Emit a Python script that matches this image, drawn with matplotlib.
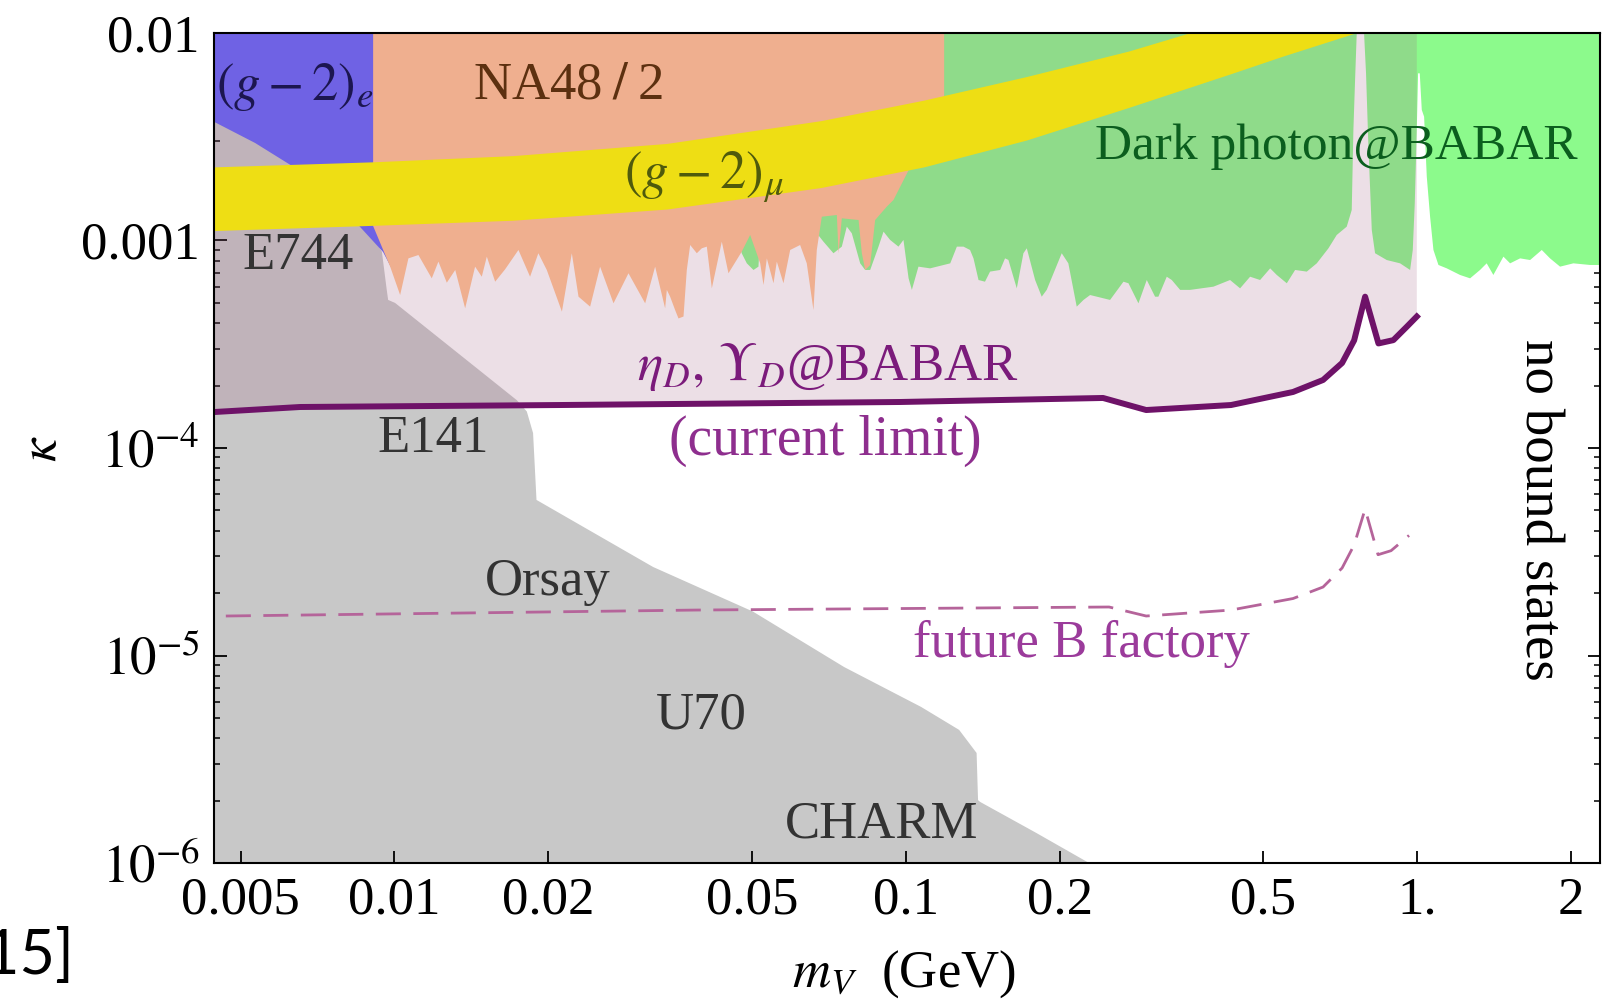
import numpy as np
import matplotlib
matplotlib.use('Agg')
import matplotlib.pyplot as plt
from matplotlib.ticker import FixedLocator, FixedFormatter, NullLocator, LogLocator

plt.rcParams['font.family'] = ['Liberation Serif', 'DejaVu Serif']
plt.rcParams['mathtext.fontset'] = 'stix'

# plot range (GeV, kappa)
m_min, m_max = 0.00443, 2.28
k_min, k_max = 1e-6, 1e-2

# beam dump envelope (E744, E141, Orsay, U70, CHARM), outline
beamdump = [(0.00443, 1e-2), (0.00883, 1e-2), (0.00883, 1.145e-3), (0.00945, 8.83e-4),
            (0.00966, 5.77e-4), (0.00972, 5.17e-4), (0.01003, 5.00e-4), (0.01735, 1.70e-4),
            (0.01815, 1.50e-4), (0.01867, 1.18e-4), (0.01896, 5.62e-5), (0.03206, 2.67e-5),
            (0.05022, 1.63e-5), (0.07577, 8.80e-6), (0.1072, 5.65e-6), (0.1272, 4.38e-6),
            (0.1376, 3.39e-6), (0.1385, 2.01e-6), (0.1398, 1.97e-6), (0.1797, 1.40e-6),
            (0.2284, 1e-6), (0.00443, 1e-6)]

# (g-2)_e excluded region, lower edge
ge_edge = [(0.00443, 3.74e-3), (0.00534, 2.95e-3), (0.00639, 2.24e-3), (0.00783, 1.48e-3),
           (0.00950, 8.80e-4), (0.01003, 6.82e-4)]

# NA48/2 lower edge
na48_edge = [(0.009085, 1.174e-3), (0.00981, 7.48e-4), (0.01026, 5.46e-4), (0.01065, 8.20e-4),
             (0.01114, 8.51e-4), (0.01183, 6.57e-4), (0.01219, 7.91e-4), (0.01266, 6.26e-4),
             (0.01315, 7.21e-4), (0.01375, 4.71e-4), (0.01438, 7.48e-4), (0.01482, 6.69e-4),
             (0.01516, 8.36e-4), (0.01574, 6.33e-4), (0.01646, 7.26e-4), (0.01748, 9.00e-4),
             (0.01842, 6.69e-4), (0.01912, 8.68e-4), (0.01986, 7.21e-4), (0.02126, 4.54e-4),
             (0.02223, 8.68e-4), (0.02291, 5.36e-4), (0.02414, 4.80e-4), (0.02525, 7.48e-4),
             (0.02682, 4.98e-4), (0.02869, 6.95e-4), (0.03093, 4.98e-4), (0.03235, 7.48e-4),
             (0.03384, 4.71e-4), (0.03410, 5.78e-4), (0.03461, 5.36e-4), (0.03540, 4.62e-4),
             (0.03594, 4.21e-4), (0.03676, 4.30e-4), (0.03731, 7.21e-4), (0.03788, 9.51e-4),
             (0.03903, 8.68e-4), (0.03992, 9.17e-4), (0.04083, 9.34e-4), (0.04176, 5.88e-4),
             (0.04368, 9.87e-4), (0.04501, 6.95e-4), (0.04778, 8.83e-4), (0.04963, 1.063e-3),
             (0.05192, 7.76e-4), (0.05271, 6.10e-4), (0.05350, 8.20e-4), (0.05513, 6.22e-4),
             (0.05596, 7.91e-4), (0.05766, 6.22e-4), (0.05943, 9.00e-4), (0.06215, 9.51e-4),
             (0.06404, 7.76e-4), (0.06600, 4.62e-4), (0.06700, 9.00e-4), (0.06853, 1.302e-3),
             (0.07333, 1.327e-3), (0.07388, 8.68e-4), (0.07499, 1.279e-3), (0.08086, 1.255e-3),
             (0.08207, 8.68e-4), (0.08331, 7.21e-4), (0.08521, 7.62e-4), (0.08714, 1.255e-3),
             (0.09183, 1.456e-3), (0.09463, 1.567e-3), (0.1189, 4.75e-3)]

# dark photon @ BABAR lower edge
babar_edge = [(0.04672, 1.083e-3), (0.04778, 8.68e-4), (0.04889, 7.76e-4), (0.05038, 7.21e-4),
              (0.05152, 7.48e-4), (0.05192, 1.083e-3), (0.06700, 1.083e-3), (0.06904, 9.87e-4),
              (0.07222, 8.68e-4), (0.07499, 9.34e-4), (0.07669, 1.166e-3), (0.07844, 1.083e-3),
              (0.08146, 7.76e-4), (0.08331, 7.21e-4), (0.08521, 7.21e-4), (0.08846, 9.34e-4),
              (0.09048, 1.103e-3), (0.09322, 1.006e-3), (0.09678, 9.34e-4), (0.09899, 1.006e-3),
              (0.1013, 6.57e-4), (0.1028, 5.78e-4), (0.1059, 7.48e-4), (0.1116, 7.34e-4),
              (0.1222, 7.76e-4), (0.1259, 9.34e-4), (0.1297, 9.34e-4), (0.1336, 9.00e-4),
              (0.1357, 8.20e-4), (0.1388, 6.45e-4), (0.1429, 6.33e-4), (0.1462, 7.08e-4),
              (0.1530, 7.21e-4), (0.1564, 8.20e-4), (0.1588, 8.06e-4), (0.1649, 5.88e-4),
              (0.1699, 8.68e-4), (0.1725, 9.17e-4), (0.1791, 6.45e-4), (0.1845, 5.36e-4),
              (0.1887, 5.78e-4), (0.2019, 8.68e-4), (0.2080, 7.76e-4), (0.2160, 4.80e-4),
              (0.2227, 5.17e-4), (0.2294, 5.46e-4), (0.2510, 5.17e-4), (0.2666, 6.33e-4),
              (0.2727, 6.22e-4), (0.2852, 4.98e-4), (0.2961, 6.45e-4), (0.3074, 5.36e-4),
              (0.3120, 5.36e-4), (0.3240, 6.69e-4), (0.3314, 6.45e-4), (0.3441, 5.78e-4),
              (0.3599, 5.78e-4), (0.3998, 5.99e-4), (0.4309, 6.45e-4), (0.4508, 5.88e-4),
              (0.4716, 6.69e-4), (0.4933, 6.45e-4), (0.5162, 7.34e-4), (0.5318, 6.82e-4),
              (0.5563, 6.22e-4), (0.5776, 7.21e-4), (0.6087, 7.08e-4), (0.6367, 7.76e-4),
              (0.6711, 9.17e-4), (0.6966, 1.063e-3), (0.7287, 1.166e-3), (0.7453, 1.403e-3),
              (0.7509, 3.41e-3), (0.7566, 5.94e-3), (0.7623, 1e-2), (0.7878, 1e-2),
              (0.7949, 6.39e-3), (0.8035, 2.83e-3), (0.8157, 1.124e-3), (0.8279, 8.68e-4),
              (0.8726, 8.05e-4), (0.9267, 7.76e-4), (0.9694, 7.21e-4), (0.9811, 9.00e-4),
              (0.9899, 1.51e-3), (0.9989, 3.41e-3), (1.0048, 6.39e-3), (1.0125, 6.39e-3),
              (1.0217, 4.26e-3), (1.0325, 3.95e-3), (1.0450, 2.03e-3), (1.0607, 1.302e-3),
              (1.0768, 9.00e-4), (1.1013, 7.62e-4), (1.1434, 7.34e-4), (1.2140, 6.82e-4),
              (1.2700, 6.57e-4), (1.3283, 7.21e-4), (1.3686, 7.76e-4), (1.4104, 6.82e-4),
              (1.4757, 8.36e-4), (1.5209, 7.76e-4), (1.5909, 8.20e-4), (1.6642, 8.05e-4),
              (1.7539, 9.00e-4), (1.8204, 8.20e-4), (1.9046, 7.48e-4), (2.0224, 7.76e-4),
              (2.1804, 7.62e-4), (2.28, 7.62e-4)]

# (g-2)_mu band
gmu_upper = [(0.00443, 2.25e-3), (0.009075, 2.38e-3), (0.01709, 2.55e-3), (0.0342, 2.92e-3),
             (0.06843, 3.76e-3), (0.1087, 4.72e-3), (0.1725, 6.13e-3), (0.2741, 8.15e-3),
             (0.3616, 1e-2)]
gmu_lower = [(0.00443, 1.11e-3), (0.009075, 1.176e-3), (0.01709, 1.245e-3), (0.0342, 1.41e-3),
             (0.06843, 1.79e-3), (0.1087, 2.25e-3), (0.1725, 3.03e-3), (0.2741, 4.36e-3),
             (0.4351, 6.35e-3), (0.5483, 7.70e-3), (0.7646, 1e-2)]

# eta_D, Upsilon_D @ BABAR current limit
etaD_m = [0.00443, 0.00654, 0.02109, 0.0975, 0.2432, 0.2953, 0.4328, 0.5722, 0.6550,
          0.7136, 0.7534, 0.7916, 0.8406, 0.899, 0.955, 0.999]
etaD_k = [1.49e-4, 1.576e-4, 1.611e-4, 1.666e-4, 1.742e-4, 1.524e-4, 1.611e-4, 1.862e-4,
          2.127e-4, 2.568e-4, 3.30e-4, 5.36e-4, 3.19e-4, 3.31e-4, 3.84e-4, 4.30e-4]

# future B factory reach
fut_m = [0.00468, 0.0389, 0.2499, 0.2953, 0.4328, 0.5722, 0.6550, 0.7136, 0.7534,
         0.7916, 0.839, 0.8897, 0.9647]
fut_k = [1.55e-5, 1.656e-5, 1.713e-5, 1.55e-5, 1.656e-5, 1.882e-5, 2.138e-5, 2.64e-5,
         3.41e-5, 5.08e-5, 3.06e-5, 3.20e-5, 3.79e-5]

xticks = [0.005, 0.01, 0.02, 0.05, 0.1, 0.2, 0.5, 1.0, 2.0]
xticklabels = ['0.005', '0.01', '0.02', '0.05', '0.1', '0.2', '0.5', '1.', '2']
yticks = [1e-6, 1e-5, 1e-4, 1e-3, 1e-2]
yticklabels = [r'$10^{-6}$', r'$10^{-5}$', r'$10^{-4}$', '0.001', '0.01']

fig = plt.figure(figsize=(16.1, 10.02), dpi=100)
ax = fig.add_axes([0.1327, 0.1387, 0.8611, 0.8284])
ax.set_xscale('log')
ax.set_yscale('log')
ax.set_xlim(m_min, m_max)
ax.set_ylim(k_min, k_max)

# gray beam dump
bd = np.array(beamdump)
ax.fill(bd[:, 0], bd[:, 1], color='#c8c8c8', lw=0, zorder=1)

# dark photon BABAR (green)
gr = np.array([(babar_edge[0][0], k_max)] + babar_edge + [(m_max, k_max)])
ax.fill(gr[:, 0], gr[:, 1], color='#8cfa8c', lw=0, zorder=2)

# eta_D excluded region: translucent pink above the solid line, up to 1 GeV
pk_m = np.array(etaD_m + [etaD_m[-1], etaD_m[0]])
pk_k = np.array(etaD_k + [k_max, k_max])
ax.fill(pk_m, pk_k, color=(160/255, 95/255, 130/255), alpha=0.2, lw=0, zorder=3)

# (g-2)_e (blue)
ge = np.array([(m_min, k_max)] + ge_edge + [(ge_edge[-1][0], k_max)])
ax.fill(ge[:, 0], ge[:, 1], color='#6f62e4', lw=0, zorder=4)

# NA48/2 (salmon)
na = np.array([(na48_edge[0][0], k_max)] + na48_edge + [(na48_edge[-1][0], k_max)])
ax.fill(na[:, 0], na[:, 1], color='#efaf8f', lw=0, zorder=5)

# (g-2)_mu band (yellow)
gm = np.array(gmu_upper + gmu_lower[::-1])
ax.fill(gm[:, 0], gm[:, 1], color='#eede14', lw=0, zorder=6)

ax.plot(etaD_m, etaD_k, color='#6e1268', lw=4.3, solid_joinstyle='round', zorder=7)
ax.plot(fut_m, fut_k, color='#b5649a', lw=2.0, dashes=(9, 4.5), zorder=7)

# labels
fs = 38
ax.text(0.0586, 0.935, r'$(g-2)_e$', color='#1c1650', fontsize=fs, ha='center', va='center',
        transform=ax.transAxes, zorder=10)
ax.text(0.256, 0.937, r'NA48$\;/\;$2', color='#5c3010', fontsize=fs, ha='center', va='center',
        transform=ax.transAxes, zorder=10)
ax.text(0.354, 0.827, r'$(g-2)_\mu$', color='#4f5a0c', fontsize=fs, ha='center', va='center',
        transform=ax.transAxes, zorder=10)
ax.text(0.810, 0.863, 'Dark photon@BABAR', color='#0b5e1e', fontsize=37, ha='center',
        va='center', transform=ax.transAxes, zorder=10)
for s, x, y in [('E744', 0.061, 0.731), ('E141', 0.158, 0.511), ('Orsay', 0.241, 0.338),
                ('U70', 0.352, 0.178), ('CHARM', 0.482, 0.047)]:
    ax.text(x, y, s, color='#333333', fontsize=fs, ha='center', va='center',
            transform=ax.transAxes, zorder=10)
ax.text(0.4426, 0.597, r'$\eta_D,\,\Upsilon_D$@BABAR', color='#7b1b7b', fontsize=fs,
        ha='center', va='center', transform=ax.transAxes, zorder=10)
ax.text(0.441, 0.508, '(current limit)', color='#8e2e8e', fontsize=40, ha='center',
        va='center', transform=ax.transAxes, zorder=10)
ax.text(0.6257, 0.264, 'future B factory', color='#9b3b9b', fontsize=fs, ha='center',
        va='center', transform=ax.transAxes, zorder=10)
ax.text(0.9555, 0.425, 'no bound states', color='black', fontsize=39.5, ha='center',
        va='center', rotation=-90, transform=ax.transAxes, zorder=10)

# axes, ticks
ax.xaxis.set_major_locator(FixedLocator(xticks))
ax.xaxis.set_major_formatter(FixedFormatter(xticklabels))
ax.xaxis.set_minor_locator(NullLocator())
ax.yaxis.set_major_locator(FixedLocator(yticks))
ax.yaxis.set_major_formatter(FixedFormatter(yticklabels))
ax.yaxis.set_minor_locator(LogLocator(base=10, subs=np.arange(2, 10)))
ax.tick_params(axis='both', which='major', direction='in', length=9, width=1.3,
               labelsize=fs, pad=10, right=True, top=False)
ax.tick_params(axis='y', which='minor', direction='in', length=4.5, width=1.1, right=True)
for sp in ax.spines.values():
    sp.set_linewidth(1.5)
    sp.set_zorder(12)

sec = ax.secondary_xaxis('top')
sec.xaxis.set_major_locator(FixedLocator(xticks))
sec.xaxis.set_minor_locator(LogLocator(base=10, subs=np.arange(2, 10)))
sec.tick_params(which='both', direction='in', length=5, width=1.1, labeltop=False)
sec.xaxis.set_minor_formatter(plt.NullFormatter())

ax.set_xlabel(r'$m_V$  (GeV)', fontsize=fs)
ax.xaxis.set_label_coords(0.498, -0.103)
ax.set_ylabel(r'$\kappa$', fontsize=fs)
ax.yaxis.set_label_coords(-0.106, 0.499)

# slide citation fragment, cut at the left edge
fig.text(-0.010, 0.028, '15]', fontsize=44, family=['Lato', 'DejaVu Sans'], ha='left',
         va='baseline')

fig.savefig('out.png', dpi=100)
